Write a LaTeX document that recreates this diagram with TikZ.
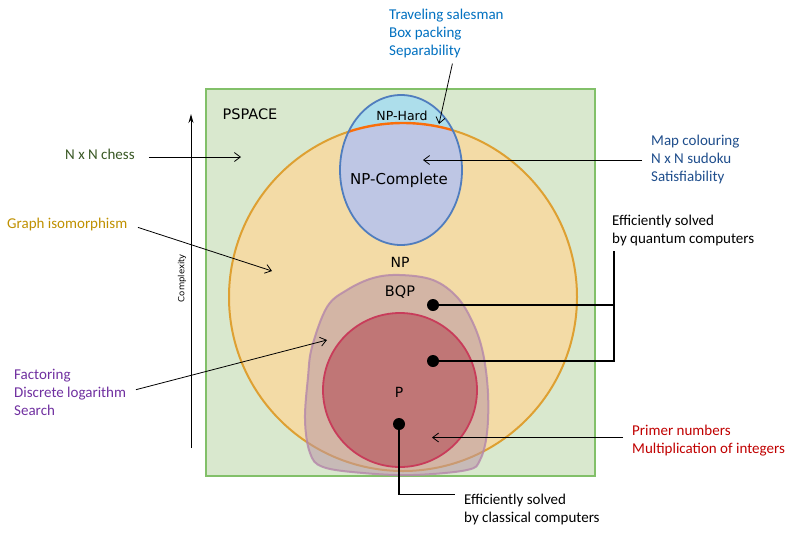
\documentclass[tikz,border=0pt]{standalone}
\usepackage{fontspec}
\setmainfont{Carlito}
\newfontfamily\dvs{DejaVu Sans}
\usetikzlibrary{arrows.meta}
\definecolor{pspfill}{RGB}{217,232,206}
\definecolor{pspline}{RGB}{130,192,105}
\definecolor{npfill}{RGB}{243,219,166}
\definecolor{npline}{RGB}{222,160,50}
\definecolor{nphfill}{RGB}{173,222,235}
\definecolor{nphline}{RGB}{80,125,190}
\definecolor{npcfill}{RGB}{190,198,228}
\definecolor{arcline}{RGB}{250,110,10}
\definecolor{bqpfill}{RGB}{186,150,165}
\definecolor{bqpline}{RGB}{180,135,170}
\definecolor{pfill}{RGB}{192,118,118}
\definecolor{pline}{RGB}{200,60,90}
\definecolor{tsc}{RGB}{0,112,192}
\definecolor{mcc}{RGB}{31,78,140}
\definecolor{chc}{RGB}{56,87,35}
\definecolor{gic}{RGB}{191,144,0}
\definecolor{facc}{RGB}{112,48,160}
\definecolor{prc}{RGB}{192,0,0}
\begin{document}
\begin{tikzpicture}[x=1pt,y=-1pt,
  lbl/.style={font=\fontsize{15}{17.7}\selectfont, inner sep=0pt, align=left, anchor=base west},
  inlbl/.style={font=\dvs\fontsize{14}{16}\selectfont, inner sep=0pt, anchor=base},
  arr/.style={-{Straight Barb[length=6pt,width=9pt]}, line width=0.8pt},
  conn/.style={line width=1.1pt},
  dot/.style={circle, fill=black, minimum size=12pt, inner sep=0pt}]
\useasboundingbox (0,0) rectangle (800,542);
% PSPACE
\draw[fill=pspfill, draw=pspline, line width=2.2pt] (206,89) rectangle (595,476);
% NP
\coordinate (npc) at (403,297);
\draw[fill=npfill, draw=npline, line width=2pt] (npc) circle (174pt);
% NP-Hard
\coordinate (nphc) at (401,170);
\fill[nphfill] (nphc) ellipse (61pt and 75pt);
\begin{scope}
  \clip (npc) circle (174pt);
  \fill[npcfill] (nphc) ellipse (61pt and 75pt);
\end{scope}
\begin{scope}
  \clip (nphc) ellipse (61pt and 75pt);
  \draw[arcline, line width=2.4pt] (npc) circle (174pt);
\end{scope}
\draw[nphline, line width=1.8pt] (nphc) ellipse (61pt and 75pt);
% BQP
\draw[fill=bqpfill, fill opacity=0.55, draw=bqpline, draw opacity=0.8, line width=2pt]
  plot[smooth cycle, tension=0.6] coordinates {
  (327,307) (347,290) (373,278) (400,275) (433,280) (457,297) (473,323)
  (483,353) (488,393) (487,433) (480,460) (467,470) (413,475) (363,473)
  (323,467) (310,453) (305,420) (308,377) (312,347)};
% P
\draw[fill=pfill, draw=pline, line width=1.8pt] (400,390) circle (77pt);
% inner labels
\node[inlbl, font=\dvs\fontsize{14.5}{16}\selectfont] (pspace) at (250,119) {PSPACE};
\node[inlbl, font=\dvs\fontsize{12.5}{14}\selectfont] (nphard) at (402,120) {NP-Hard};
\node[inlbl, font=\dvs\fontsize{15}{17}\selectfont] (npcomp) at (399,184) {NP-Complete};
\node[inlbl] (nplab) at (400,267) {NP};
\node[inlbl, font=\dvs\fontsize{14.5}{16}\selectfont] (bqplab) at (400,296) {BQP};
\node[inlbl] (plab) at (399,397) {P};
% Complexity axis
\coordinate (axb) at (191,448);
\coordinate (axt) at (191,114);
\draw[line width=1pt, -{Stealth[length=9pt,width=5pt]}] (axb) -- (axt);
\node[font=\dvs\fontsize{8.5}{10}\selectfont, rotate=90, inner sep=0pt] (cplx) at (182,278) {Complexity};
% dots
\node[dot] (d1) at (433,305) {};
\node[dot] (d2) at (433,361) {};
\node[dot] (d3) at (399,424) {};
% outer labels (anchored at the baseline of their last line)
\node[lbl, text=tsc] (ts) at (389,55) {Traveling salesman\\Box packing\\Separability};
\node[lbl, text=mcc] (mc) at (651,181) {Map colouring\\N x N sudoku\\Satisfiability};
\node[lbl] (qt) at (612,243) {Efficiently solved\\by quantum computers};
\node[lbl, text=chc] (chess) at (65,159) {N x N chess};
\node[lbl, text=gic] (gi) at (7,228) {Graph isomorphism};
\node[lbl, text=facc] (fac) at (14,415) {Factoring\\Discrete logarithm\\Search};
\node[lbl, text=prc] (pr) at (632,453) {Primer numbers\\Multiplication of integers};
\node[lbl] (cs) at (464,522) {Efficiently solved\\by classical computers};
% arrow targets
\coordinate (chessT) at (241,157);
\coordinate (giT) at (272,271);
\coordinate (facT) at (327,340);
\coordinate (mcT) at (423,160);
\coordinate (tsT) at (439,124);
\coordinate (prT) at (432,437.5);
% arrows
\draw[arr, shorten <=14pt] (chess.east |- chessT) -- (chessT);
\draw[arr, shorten <=11pt] (gi.east) -- (giT);
\draw[arr, shorten <=10pt] (fac.east) -- (facT);
\draw[arr, shorten <=9pt] (mc.west |- mcT) -- (mcT);
\draw[arr] ([xshift=6pt,yshift=-6pt]ts.south) -- (tsT);
\draw[arr, shorten <=9pt] (pr.west |- prT) -- (prT);
% connectors
\draw[conn] (d1.center) -| ([xshift=2pt,yshift=-5pt]qt.south west);
\draw[conn] (d2.center) -| ([xshift=2pt,yshift=-5pt]qt.south west);
\draw[conn] (d3.center) |- ([xshift=-9pt,yshift=-1pt]cs.north west);
\end{tikzpicture}
\end{document}
